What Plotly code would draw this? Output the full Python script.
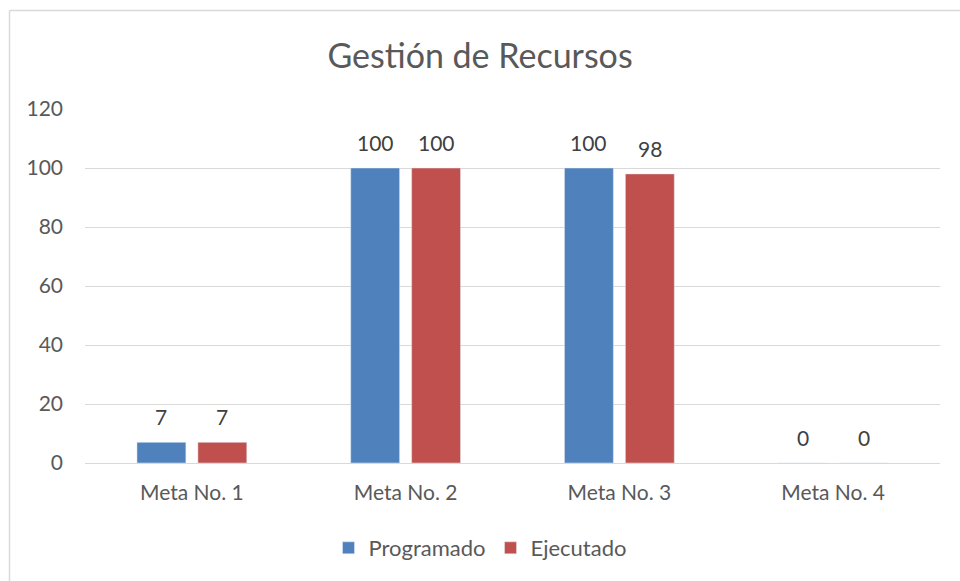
import plotly.graph_objects as go

categories = ["Meta No. 1", "Meta No. 2", "Meta No. 3", "Meta No. 4"]
programado = [7, 100, 100, 0]
ejecutado = [7, 100, 98, 0]
y_ticks = [0, 20, 40, 60, 80, 100, 120]

FONT = "Lato, Carlito, Calibri, sans-serif"
TXT = "#595959"
LBL = "#404040"

L, R, T, B = 85, 20, 109, 118
W, H = 960, 581
pw, ph = W - L - R, H - T - B
BARGAP, GROUPGAP = 0.43, 0.197
slot = pw / len(categories) * (1 - BARGAP) / 2

fig = go.Figure()
fig.add_trace(go.Bar(name="Programado", x=categories, y=programado,
                     marker=dict(color="#4F81BD")))
fig.add_trace(go.Bar(name="Ejecutado", x=categories, y=ejecutado,
                     marker=dict(color="#C0504D")))

annotations = []
for series, shift in ((programado, -slot / 2), (ejecutado, slot / 2)):
    for cat, val in zip(categories, series):
        annotations.append(dict(
            x=cat, y=val, xref="x", yref="y", text=str(val), showarrow=False,
            xshift=shift, yshift=11, yanchor="bottom",
            font=dict(size=21, color=LBL, family=FONT)))


def px_x(p):
    return (p - L) / pw


def px_y(p):
    return (H - B - p) / ph


fig.update_layout(
    width=W, height=H,
    margin=dict(l=L, r=R, t=T, b=B),
    paper_bgcolor="white", plot_bgcolor="white",
    font=dict(family=FONT, color=TXT, size=21),
    title=dict(text="Gestión de Recursos", x=0.5, xanchor="center",
               y=1 - 56 / H, yanchor="middle",
               font=dict(size=34, color=TXT, family=FONT)),
    barmode="group", bargap=BARGAP, bargroupgap=GROUPGAP,
    showlegend=True,
    legend=dict(orientation="h", x=0.5, xanchor="center", xref="container",
                y=(581 - 548) / H, yanchor="middle", yref="container",
                font=dict(size=22, color=TXT, family=FONT),
                itemwidth=30, traceorder="normal"),
    xaxis=dict(showgrid=False, showline=True, linecolor="#D9D9D9", linewidth=1,
               ticks="", tickfont=dict(size=21, color=TXT)),
    yaxis=dict(range=[0, 120], tickvals=y_ticks, showgrid=True, gridcolor="#D9D9D9",
               gridwidth=1, zeroline=False, showline=False, ticks="",
               tickfont=dict(size=21, color=TXT)),
    annotations=annotations,
    shapes=[
        dict(type="line", xref="paper", yref="paper",
             x0=px_x(9.5), x1=px_x(965), y0=px_y(10.5), y1=px_y(10.5),
             line=dict(color="#D9D9D9", width=1.5)),
        dict(type="line", xref="paper", yref="paper",
             x0=px_x(9.5), x1=px_x(9.5), y0=px_y(10.5), y1=px_y(590),
             line=dict(color="#D9D9D9", width=1.5)),
    ],
)
fig.update_yaxes(ticklabelstandoff=21)
fig.update_xaxes(ticklabelstandoff=11)
fig.write_html("out.html", config={"displayModeBar": False},
               post_script="document.body.style.margin='0';")
